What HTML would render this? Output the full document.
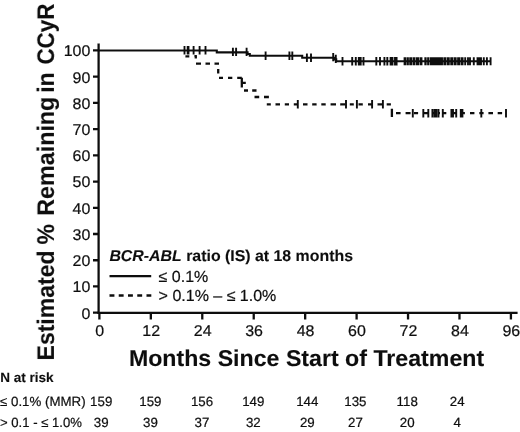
<!DOCTYPE html>
<html lang="en"><head><meta charset="utf-8"><title>Kaplan-Meier: Estimated % Remaining in CCyR</title>
<style>html,body{margin:0;padding:0;background:#fff;}body{width:520px;height:432px;overflow:hidden;}svg{display:block;}text{font-family:"Liberation Sans",Arial,sans-serif;fill:#111;text-rendering:geometricPrecision;stroke:#111;stroke-width:0.22px;stroke-linejoin:round;}text[font-weight=bold]{stroke-width:0.12px;}</style></head><body>
<svg width="520" height="432" viewBox="0 0 520 432">
<rect width="520" height="432" fill="#fff"/>
<defs><filter id="soft" x="0" y="0" width="520" height="432" filterUnits="userSpaceOnUse"><feGaussianBlur stdDeviation="0.38"/></filter></defs>
<g filter="url(#soft)">
<g stroke="#111" fill="none" stroke-width="2.3">
<path d="M98.6 43.5V313.9"/>
<path d="M97.6 312.9H517.6"/>
<path d="M93 50.40H98.6M93 76.63H98.6M93 102.86H98.6M93 129.09H98.6M93 155.32H98.6M93 181.55H98.6M93 207.78H98.6M93 234.01H98.6M93 260.24H98.6M93 286.47H98.6M93 312.70H98.6"/>
<path d="M99.40 312.9V319.4M150.84 312.9V319.4M202.28 312.9V319.4M253.72 312.9V319.4M305.16 312.9V319.4M356.60 312.9V319.4M408.04 312.9V319.4M459.48 312.9V319.4M510.92 312.9V319.4"/>
</g>
<text transform="translate(90.30 56.30) scale(1.0300 1)" font-size="15.5" text-anchor="end">100</text>
<text transform="translate(90.30 82.53) scale(1.0300 1)" font-size="15.5" text-anchor="end">90</text>
<text transform="translate(90.30 108.76) scale(1.0300 1)" font-size="15.5" text-anchor="end">80</text>
<text transform="translate(90.30 134.99) scale(1.0300 1)" font-size="15.5" text-anchor="end">70</text>
<text transform="translate(90.30 161.22) scale(1.0300 1)" font-size="15.5" text-anchor="end">60</text>
<text transform="translate(90.30 187.45) scale(1.0300 1)" font-size="15.5" text-anchor="end">50</text>
<text transform="translate(90.30 213.68) scale(1.0300 1)" font-size="15.5" text-anchor="end">40</text>
<text transform="translate(90.30 239.91) scale(1.0300 1)" font-size="15.5" text-anchor="end">30</text>
<text transform="translate(90.30 266.14) scale(1.0300 1)" font-size="15.5" text-anchor="end">20</text>
<text transform="translate(90.30 292.37) scale(1.0300 1)" font-size="15.5" text-anchor="end">10</text>
<text transform="translate(90.30 318.60) scale(1.0300 1)" font-size="15.5" text-anchor="end">0</text>
<text transform="translate(99.80 335.60) scale(1.0300 1)" font-size="15.5" text-anchor="middle">0</text>
<text transform="translate(151.24 335.60) scale(1.0300 1)" font-size="15.5" text-anchor="middle">12</text>
<text transform="translate(202.68 335.60) scale(1.0300 1)" font-size="15.5" text-anchor="middle">24</text>
<text transform="translate(254.12 335.60) scale(1.0300 1)" font-size="15.5" text-anchor="middle">36</text>
<text transform="translate(305.56 335.60) scale(1.0300 1)" font-size="15.5" text-anchor="middle">48</text>
<text transform="translate(357.00 335.60) scale(1.0300 1)" font-size="15.5" text-anchor="middle">60</text>
<text transform="translate(408.44 335.60) scale(1.0300 1)" font-size="15.5" text-anchor="middle">72</text>
<text transform="translate(459.88 335.60) scale(1.0300 1)" font-size="15.5" text-anchor="middle">84</text>
<text transform="translate(511.32 335.60) scale(1.0300 1)" font-size="15.5" text-anchor="middle">96</text>
<text transform="translate(53.8 360) rotate(-90) scale(1 1.04)" font-size="23" font-weight="bold"><tspan x="-0.45">Estimated</tspan> <tspan x="115.5">%</tspan> <tspan x="144.3" textLength="119" lengthAdjust="spacingAndGlyphs">Remaining</tspan> <tspan x="267.2">in</tspan> <tspan x="295.4" textLength="61.1" lengthAdjust="spacingAndGlyphs">CCyR</tspan></text>
<text transform="translate(306.50 365.90) scale(1.0120 1)" font-size="22.9" text-anchor="middle" font-weight="bold">Months Since Start of Treatment</text>
<text transform="translate(109.40 260.90) scale(1.0125 1)" font-size="15.7" font-weight="bold"><tspan font-style="italic">BCR-ABL</tspan> ratio (IS) at 18 months</text>
<path d="M109.5 276.1H151.2" stroke="#111" stroke-width="2.3"/>
<text x="158.6" y="282.2" font-size="16">≤ 0.1%</text>
<path d="M109.5 295.5H151.3" stroke="#111" stroke-width="2.4" stroke-dasharray="4.9 4.35"/>
<text x="158.6" y="301.2" font-size="16">&gt; 0.1% – ≤ 1.0%</text>
<text x="0.3" y="382.3" font-size="13.5" font-weight="bold">N at risk</text>
<text x="0" y="405.5" font-size="13.3">≤ 0.1% (MMR)</text>
<text transform="translate(0.00 426.80) scale(0.9850 1)" font-size="13.3">&gt; 0.1 - ≤ 1.0%</text>
<g font-size="13.3" text-anchor="middle">
<text x="101.2" y="405.5">159</text>
<text x="101.2" y="426.8">39</text>
<text x="150.4" y="405.5">159</text>
<text x="150.4" y="426.8">39</text>
<text x="202.0" y="405.5">156</text>
<text x="202.0" y="426.8">37</text>
<text x="253.3" y="405.5">149</text>
<text x="253.3" y="426.8">32</text>
<text x="307.3" y="405.5">144</text>
<text x="307.3" y="426.8">29</text>
<text x="355.4" y="405.5">135</text>
<text x="355.4" y="426.8">27</text>
<text x="407.2" y="405.5">118</text>
<text x="407.2" y="426.8">20</text>
<text x="457.2" y="405.5">24</text>
<text x="457.2" y="426.8">4</text>
</g>
<g stroke="#111" fill="none">
<path stroke-width="2.1" d="M98.6 50.5H216.8V52.4H247.6V54H249.8V55.7H302.2V57.75H334.4V59.4H336.2V61.2H490.6"/>
<path stroke-width="1.9" d="M184.5 46.10V54.50M187.7 46.10V54.50M188.5 46.10V54.50M193.6 46.10V54.50M199.6 46.10V54.50M205.5 46.10V54.50M232.9 47.70V56.10M236.1 47.70V56.10M246.6 47.70V56.10M265.6 51.50V59.90M289.4 51.50V59.90M292.3 51.50V59.90M306.9 53.55V61.95M311.0 53.55V61.95M333.2 52.90V61.30M335.8 54.70V63.10M342.5 57.00V65.40M352.2 57.00V65.40M355.8 57.00V65.40M358.8 57.00V65.40M360.7 57.00V65.40M363.5 57.00V65.40M376.3 57.00V65.40M380.0 57.00V65.40M384.4 57.00V65.40M387.3 57.00V65.40M390.6 57.00V65.40M392.5 57.00V65.40M395.0 57.00V65.40M396.6 57.00V65.40"/>
<path stroke="none" fill="#111" d="M403.63 57.20H406.07V65.20H403.63ZM406.43 57.20H408.87V65.20H406.43ZM409.23 57.20H412.27V65.20H409.23ZM412.73 57.20H415.37V65.20H412.73ZM415.83 57.20H419.17V65.20H415.83ZM419.63 57.20H422.47V65.20H419.63ZM424.33 57.20H426.67V65.20H424.33ZM427.13 57.20H429.17V65.20H427.13ZM429.63 57.20H442.97V65.20H429.63ZM443.33 57.20H446.27V65.20H443.33ZM446.73 57.20H449.77V65.20H446.73ZM450.23 57.20H453.47V65.20H450.23ZM453.93 57.20H456.67V65.20H453.93ZM457.13 57.20H460.37V65.20H457.13ZM460.83 57.20H463.57V65.20H460.83Z"/>
<path stroke-width="1.9" d="M465.2 57.20V65.20M468.0 57.20V65.20M470.0 57.20V65.20M473.8 57.20V65.20M477.5 57.20V65.20M479.4 57.20V65.20M481.0 57.20V65.20M483.8 57.20V65.20M486.9 57.20V65.20M490.6 57.20V65.20"/>
<path stroke-width="2.3" d="M185.4 56.40H189.3M194.4 56.20H196.8M196.0 63.70H201.0M205.5 63.70H210.0M214.5 63.70H219.0M219.0 77.80H223.0M228.0 77.80H232.3M237.2 77.80H241.8M241.8 82.80H245.8M244.0 90.50H248.0M252.2 90.50H256.5M254.5 97.00H259.2M264.0 97.00H268.9M266.8 104.30H270.8M275.5 104.30H280.0M284.8 104.30H289.0M293.8 104.30H298.0M303.0 104.30H307.5M312.2 104.30H316.6M321.3 104.30H325.7M330.6 104.30H336.0M340.2 104.30H345.2M349.8 104.30H353.8M358.5 104.30H362.8M368.0 104.30H372.0M377.5 104.30H382.0M386.7 104.30H390.9M396.0 113.20H400.6M405.6 113.20H410.6M414.0 113.20H418.1M423.0 113.20H428.6M432.3 113.20H434.6M438.0 113.20H440.0M443.0 113.20H446.3M453.0 113.20H456.2M461.5 113.20H464.9M470.0 113.20H474.4M479.3 113.20H483.6M488.4 113.20H493.0M497.7 113.20H502.1M195.8 55.50V58.50M218.2 69.00V73.50M241.8 77.80V87.50M391.9 108.80V116.90"/>
<path stroke-width="1.9" d="M297.8 100.10V108.50M346.0 100.10V108.50M356.9 100.10V108.50M372.1 100.10V108.50M382.9 100.10V108.50M412.8 109.00V117.40M423.3 109.00V117.40M428.3 109.00V117.40M432.4 109.00V117.40M434.5 109.00V117.40M436.4 109.00V117.40M438.5 109.00V117.40M442.8 109.00V117.40M451.4 109.00V117.40M453.0 109.00V117.40M456.2 109.00V117.40M460.8 109.00V117.40M462.4 109.00V117.40M481.3 109.00V117.40M506.0 109.00V117.40"/>
</g>
</g>
</svg></body></html>
